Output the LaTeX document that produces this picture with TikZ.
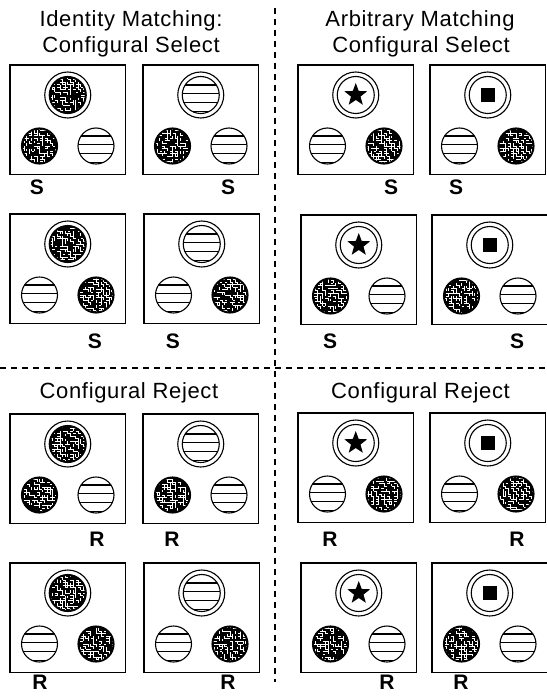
\documentclass[tikz,border=0pt]{standalone}
\usepackage{fontspec}
\setmainfont{Liberation Sans}
\newfontfamily\ttlfont[LetterSpace=3]{Liberation Sans}
\usetikzlibrary{shapes.geometric}
\tikzset{
  rim/.style={line width=1.1pt},
  maze/.style={white, line width=0.8pt},
  % textured disk: black with white squiggles
  pics/speckle/.style={code={
    \fill (0,0) circle (#1);
    \begin{scope}
      \clip (0,0) circle (#1-1.5);
      \foreach \i in {-8,...,7}{\foreach \j in {-8,...,7}{
        \pgfmathrandominteger{\m}{0}{4}
        \ifcase\m\relax \draw[maze] (\i*2.6,\j*2.6) -- ++(2.6,0);
        \or \draw[maze] (\i*2.6,\j*2.6) -- ++(0,2.6);
        \or \draw[maze] (\i*2.6,\j*2.6) -- ++(2.6,0) -- ++(0,2.6);
        \fi}}
    \end{scope}
    \draw[rim] (0,0) circle (#1);}},
  % striped disk
  pics/stripes/.style={code={
    \begin{scope}
      \clip (0,0) circle (#1);
      \foreach \k in {-10,-1.3,7.4,16.1} \draw[rim] (-#1,\k) -- (#1,\k);
    \end{scope}
    \draw[rim] (0,0) circle (#1);}},
  pics/star/.style={code={
    \draw[rim] (0,0) circle (#1);
    \node[star, star points=5, star point ratio=2.4, fill, inner sep=0pt, minimum size=24pt] (-mark) at (0,0) {};}},
  pics/square/.style={code={
    \draw[rim] (0,0) circle (#1);
    \fill (-7,-7) rectangle (7,7);}}
}
\begin{document}
\begin{tikzpicture}[x=1pt, y=-1pt,
    box/.style={line width=1.3pt},
    ttl/.style={font=\ttlfont\fontsize{22}{26}\selectfont, anchor=base},
    lbl/.style={font=\bfseries\fontsize{21}{21}\selectfont, anchor=base},
    sep/.style={line width=1.2pt, dash pattern=on 6pt off 5pt}]
  \useasboundingbox (0,0) rectangle (546,698);
  \pgfmathsetseed{7}
  % Separators
  \draw[sep] (275,8) -- (275,682);
  \draw[sep] (0,368) -- (546,368);
  % Headings
  \node[ttl] (idm) at (131,27) {Identity Matching:};
  \node[ttl] (idsel) at (131,53) {Configural Select};
  \node[ttl] (arm) at (420,27) {Arbitrary Matching};
  \node[ttl] (arsel) at (421,53) {Configural Select};
  \node[ttl] (idrej) at (129,398) {Configural Reject};
  \node[ttl] (arrej) at (420.5,398) {Configural Reject};
  % Trial panels: sample on top, two choices below
  \foreach \bx/\by/\smp/\lft/\rgt in {
      10/65/speckle/speckle/stripes, 143/65/stripes/speckle/stripes,
      298/65/star/stripes/speckle, 430/65/square/stripes/speckle,
      10/214/speckle/stripes/speckle, 144/214/stripes/stripes/speckle,
      301/215/star/speckle/stripes, 432/215/square/speckle/stripes,
      10/414/speckle/speckle/stripes, 143/414/stripes/speckle/stripes,
      298/413/star/stripes/speckle, 430/413/square/stripes/speckle,
      10/563/speckle/stripes/speckle, 144/563/stripes/stripes/speckle,
      301/563/star/speckle/stripes, 432/563/square/speckle/stripes}{
    \draw[box] (\bx,\by) rectangle ++(115.5,109.5);
    \draw[rim] (\bx+57.75,\by+30) circle (23);
    \pic at (\bx+57.75,\by+30) {\smp=18.5};
    \pic at (\bx+29.5,\by+81) {\lft=18};
    \pic at (\bx+86,\by+81) {\rgt=18};
  }
  % Select / reject marks
  \foreach \lx/\ly/\txt [count=\n] in {
      37/194/S, 228/194/S, 391/194/S, 456/194/S,
      95/348/S, 173/348/S, 330/348/S, 517/348/S,
      97/546/R, 172/546/R, 330/546/R, 517/546/R,
      40/689/R, 228/689/R, 387/689/R, 461/689/R}
    \node[lbl] (mark\n) at (\lx,\ly) {\txt};
\end{tikzpicture}
\end{document}
